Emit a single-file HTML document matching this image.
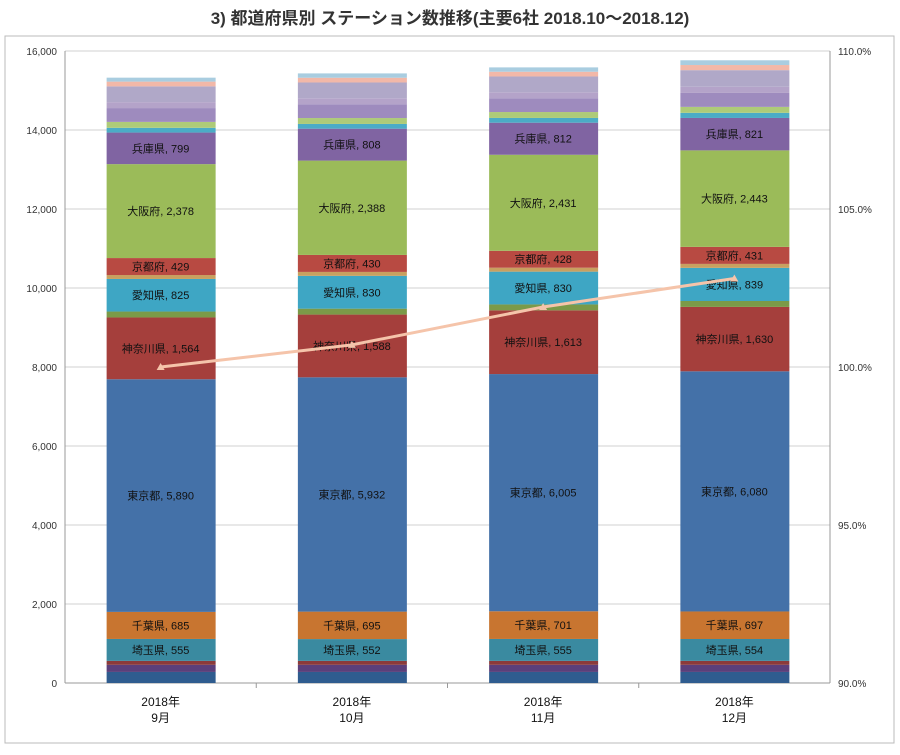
<!DOCTYPE html>
<html><head><meta charset="utf-8"><style>
body{margin:0;background:#fff;width:900px;height:750px;overflow:hidden}
svg text{font-family:"Liberation Sans","Noto Sans CJK JP",sans-serif}
</style></head><body>
<svg id="c" width="900" height="750" xmlns="http://www.w3.org/2000/svg">
<text x="450" y="24" text-anchor="middle" font-size="17" font-weight="bold" fill="#333">3) 都道府県別 ステーション数推移(主要6社 2018.10～2018.12)</text>
<rect x="5" y="36" width="889" height="707" fill="none" stroke="#bbb"/>
<g id="grid"></g><g id="bars"></g><g id="line"></g><g id="axes"></g>
</svg>
<script>
const months=["2018年|9月","2018年|10月","2018年|11月","2018年|12月"];
const seriesNames=["other-b1","other-b2","other-b3","埼玉県","千葉県","東京都","神奈川県","other-m1","愛知県","other-m2","京都府","大阪府","兵庫県","other-t1","other-t2","other-t3","other-t4","other-t5","other-t6","other-t7"];
const seriesColors=["#2f5c8f","#5b3f7a","#8b3a3a","#3a8aa0","#c87530","#4471a8","#a53f3c","#7b9a48","#3ea6c4","#c8a060","#b84a42","#9bbb59","#8064a2","#4bacc6","#aecb78","#9e8bbe","#b4a3c9","#b0a8c8","#f2b8a8","#a9cde0"];
const showLabel=[0,0,0,1,1,1,1,0,1,0,1,1,1,0,0,0,0,0,0,0];
const vals9 =[280,180,100,555,685,5890,1564,150,825,100,429,2378,799,120,150,350,150,400,120,100];
const vals10=[280,180,100,552,695,5932,1588,150,830,100,430,2388,808,120,150,350,150,400,120,110];
const vals11=[280,180,100,555,701,6005,1613,150,830,100,428,2431,812,120,150,350,150,400,120,110];
const vals12=[280,180,100,554,697,6080,1630,150,839,100,431,2443,821,130,150,360,150,420,130,120];
const allVals=[vals9,vals10,vals11,vals12];
const ratio=[100.0,100.7,101.9,102.8];
const yTicks=[0,2000,4000,6000,8000,10000,12000,14000,16000];
const rTicks=[90,95,100,105,110];
const X0=65,X1=830,Y0=683,Y1=51;
const ns="http://www.w3.org/2000/svg";
const y=v=>Y0-(v/16000)*(Y0-Y1);
const yr=p=>Y0-((p-90)/20)*(Y0-Y1);
const bw=(X1-X0)/months.length;
const xc=i=>X0+bw*(i+0.5);
function mk(t,a,p){const e=document.createElementNS(ns,t);for(const k in a)e.setAttribute(k,a[k]);p.appendChild(e);return e;}
const G=document.getElementById('grid'),B=document.getElementById('bars'),L=document.getElementById('line'),A=document.getElementById('axes');
yTicks.forEach(t=>{
 const l=mk('line',{x1:X0,x2:X1,y1:y(t),y2:y(t),stroke:t?'#d0d0d0':'#999'},G);
 
 
 const tx=mk('text',{x:X0-8,y:y(t)+4,'text-anchor':'end','font-size':10,fill:'#333'},A);
 tx.textContent=t.toLocaleString('en-US');
 
 
});
rTicks.forEach(t=>{
 const tx=mk('text',{x:X1+8,y:yr(t)+4,'font-size':10,fill:'#333'},A);
 tx.textContent=t.toFixed(1)+'%';
 
 
});
mk('line',{x1:X0,x2:X0,y1:Y1,y2:Y0,stroke:'#999'},A);
mk('line',{x1:X1,x2:X1,y1:Y1,y2:Y0,stroke:'#999'},A);
months.forEach((m,i)=>{
 const vs=allVals[i];let acc=0;const x=xc(i)-54;
 vs.forEach((v,k)=>{
  const r=mk('rect',{x:x,width:109,y:y(acc+v),height:y(acc)-y(acc+v),fill:seriesColors[k]},B);
  
  
  if(showLabel[k]){
   const t=mk('text',{x:xc(i),y:(y(acc)+y(acc+v))/2+4,'text-anchor':'middle','font-size':11,fill:'#111'},B);
   t.textContent=seriesNames[k]+', '+v.toLocaleString('en-US');
   
   
  }
  acc+=v;
 });
 const p=m.split('|');
 const t1=mk('text',{x:xc(i),y:706,'text-anchor':'middle','font-size':12,fill:'#111'},A);t1.textContent=p[0];
 
 
 const t2=mk('text',{x:xc(i),y:722,'text-anchor':'middle','font-size':12,fill:'#111'},A);t2.textContent=p[1];
 
 
 if(i>0){mk('line',{x1:X0+bw*i,x2:X0+bw*i,y1:Y0,y2:Y0+5,stroke:'#999'},A);}
});
const pl=mk('polyline',{points:ratio.map((r,i)=>xc(i)+','+yr(r)).join(' '),fill:'none',stroke:'#f5c4aa','stroke-width':3},L);


ratio.forEach((r,i)=>{
 const c=mk('polygon',{points:`${xc(i)-4},${yr(r)+3} ${xc(i)+4},${yr(r)+3} ${xc(i)},${yr(r)-4}`,fill:'#f5c4aa'},L);
 
 
});
</script>
</body></html>
